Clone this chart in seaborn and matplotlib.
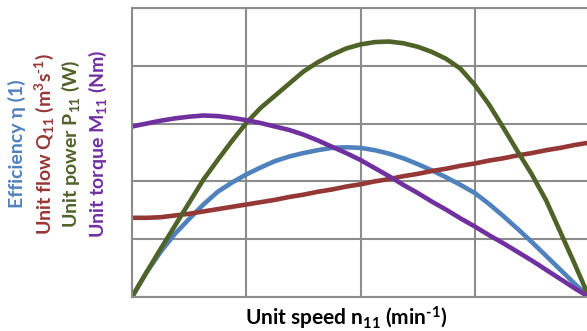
import matplotlib
matplotlib.use("Agg")
import matplotlib.pyplot as plt
import seaborn as sns
import pandas as pd

# unit speed positions (grid units)
speed = [0, 0.125, 0.25, 0.375, 0.5, 0.625, 0.75, 0.875, 1.0, 1.125, 1.25, 1.375, 1.5, 1.625,
         1.75, 1.875, 2.0, 2.125, 2.25, 2.375, 2.5, 2.625, 2.75, 2.875, 3.0, 3.125, 3.25,
         3.375, 3.5, 3.625, 3.75, 3.875, 4.0]
efficiency = [0, 0.42, 0.78, 1.09, 1.35, 1.60, 1.82, 1.98, 2.12, 2.24, 2.35, 2.43, 2.49, 2.54,
              2.58, 2.59, 2.58, 2.54, 2.48, 2.40, 2.30, 2.19, 2.07, 1.94, 1.80, 1.61, 1.40,
              1.18, 0.95, 0.71, 0.47, 0.23, 0]
flow = [1.37, 1.37, 1.38, 1.41, 1.44, 1.48, 1.52, 1.56, 1.60, 1.64, 1.68, 1.73, 1.77, 1.82,
        1.86, 1.91, 1.95, 2.00, 2.04, 2.09, 2.13, 2.18, 2.22, 2.27, 2.31, 2.36, 2.40,
        2.45, 2.49, 2.54, 2.58, 2.63, 2.67]
power = [0, 0.42, 0.83, 1.23, 1.63, 2.03, 2.37, 2.70, 3.01, 3.27, 3.48, 3.69, 3.90, 4.06,
         4.19, 4.30, 4.37, 4.41, 4.42, 4.39, 4.33, 4.24, 4.12, 3.95, 3.67, 3.33, 2.93,
         2.52, 2.12, 1.67, 1.12, 0.57, 0]
torque = [2.95, 3.00, 3.05, 3.09, 3.12, 3.14, 3.13, 3.10, 3.06, 3.01, 2.95, 2.89, 2.81, 2.71,
          2.60, 2.49, 2.37, 2.23, 2.09, 1.94, 1.80, 1.65, 1.51, 1.36, 1.22, 1.07, 0.93,
          0.78, 0.63, 0.47, 0.31, 0.15, 0]

series_names = ["Efficiency", "Flow", "Power", "Torque"]
colors = ["#4F81BD", "#953735", "#4F6228", "#7030A0"]
ylabels = ["Efficiency η (1)",
           "Unit flow Q$_{11}$ (m$^{3}$s$^{\u2010 1}$)",
           "Unit power P$_{11}$ (W)",
           "Unit torque M$_{11}$ (Nm)"]
xlabel = "Unit speed n$_{11}$ (min$^{\u20101}$)"

sns.set_theme(style="white")
plt.rcParams["font.family"] = ["Lato", "DejaVu Sans"]
plt.rcParams["mathtext.default"] = "regular"

df = pd.concat([
    pd.DataFrame({"speed": speed, "value": vals, "series": name})
    for name, vals in zip(series_names, [efficiency, flow, power, torque])
])

fig = plt.figure(figsize=(5.87, 3.31), dpi=100)
ax = fig.add_axes([132 / 587, 34 / 331, 457 / 587, 289 / 331])
sns.lineplot(data=df, x="speed", y="value", hue="series", palette=colors,
             hue_order=series_names, linewidth=3.3, legend=False, ax=ax, sort=False)
for ln in ax.lines:
    ln.set_solid_capstyle("round")
    ln.set_solid_joinstyle("round")

grid_c = "#8C8C8C"
ax.set_xlim(0, 4)
ax.set_ylim(0, 5)
ax.set_xticks([0, 1, 2, 3, 4])
ax.set_yticks([0, 1, 2, 3, 4, 5])
ax.set_xticklabels([])
ax.set_yticklabels([])
ax.tick_params(length=0)
ax.grid(True, color=grid_c, linewidth=1.5)
ax.set_axisbelow(True)
for s in ax.spines.values():
    s.set_color(grid_c)
    s.set_linewidth(1.5)
ax.set_xlabel("")
ax.set_ylabel("")

fig.text(346 / 587, 1 - 318 / 331, xlabel, ha="center", va="center",
         fontsize=15, fontweight="bold", color="black")

xs = [17, 44, 71, 98]
for xp, lab, c in zip(xs, ylabels, colors):
    fig.text(xp / 587, 1 - 144 / 331, lab, rotation=90, ha="center", va="center",
             fontsize=14, fontweight="bold", color=c)

fig.savefig("out.png", dpi=100)
